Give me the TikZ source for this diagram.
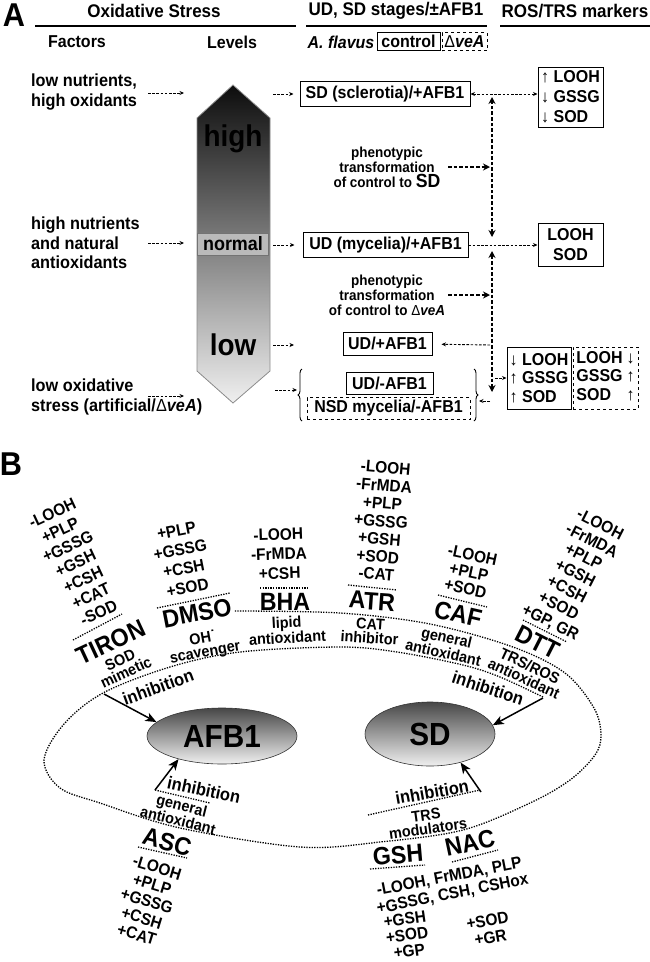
\documentclass[tikz,border=0pt]{standalone}
\usepackage{fontspec}
\setmainfont{Liberation Sans}[FakeStretch=0.93]
\usetikzlibrary{arrows.meta,shapes.geometric,decorations.pathreplacing,calc}
\newcommand{\fs}[2]{\fontsize{#1}{#2}\selectfont}
\newcommand{\dve}{{\mdseries Δ}\textit{veA}}
\begin{document}
\begin{tikzpicture}[x=1pt,y=-1pt,
  every node/.style={inner sep=0pt},
  hdr/.style={font=\bfseries\fs{18.3}{20}},
  sub/.style={font=\bfseries\fs{17.2}{20}},
  fac/.style={font=\bfseries\fs{17.5}{19.5}, align=left, anchor=west},
  bx/.style={draw, line width=1pt, font=\bfseries\fs{17.2}{20}},
  mk/.style={draw, line width=1pt, font=\bfseries\fs{17.2}{20}, align=left},
  big/.style={font=\bfseries\fs{30}{30}},
  ptx/.style={font=\bfseries\fs{14.5}{15}, align=center},
  da/.style={line width=0.9pt, dash pattern=on 2.6pt off 1.6pt, -{Stealth[length=4.5pt,width=4pt]}},
  dda/.style={da, {Stealth[length=4.5pt,width=4pt]}-{Stealth[length=4.5pt,width=4pt]}},
  tda/.style={line width=2.4pt, dash pattern=on 3.6pt off 2pt, -{Stealth[length=7pt,width=7pt]}},
  tdda/.style={tda, {Stealth[length=7pt,width=7pt]}-{Stealth[length=7pt,width=7pt]}},
  lst/.style={font=\bfseries\fs{16.6}{18.3}, align=center},
  drug/.style={font=\bfseries\fs{25}{25}},
  dsc/.style={font=\bfseries\fs{15.5}{14}, align=center},
  inh/.style={font=\bfseries\fs{17.7}{18}},
  sep/.style={line width=1.3pt, dash pattern=on 1.3pt off 1.3pt},
  inharr/.style={line width=1.5pt, -{Stealth[length=11pt,width=9pt,inset=3pt]}},
  oval/.style={ellipse, top color=black!72, bottom color=black!6, draw=black!80, line width=0.6pt, font=\bfseries\fs{32}{32}},
  brc/.style={line width=0.9pt, decorate, decoration={brace, amplitude=4pt}},
]
\useasboundingbox (0,0) rectangle (650,962);

% ---------------- Panel A header
\node[font=\bfseries\fs{33}{33}] (labA) at (14,15) {A};
\node[hdr] (hOx) at (154,11) {Oxidative Stress};
\node[hdr] (hUD) at (396,11) {UD, SD stages/±AFB1};
\node[hdr] (hRT) at (575,11) {ROS/TRS markers};
\draw[line width=1.6pt] (35,26) -- (296,26) (306,26) -- (487,26) (500,26) -- (650,26);
\node[sub] (hFa) at (77,42) {Factors};
\node[sub] (hLe) at (232,42) {Levels};
\node[font=\bfseries\itshape\fs{17.2}{20}] (hAf) at (341,42) {A. flavus};
\node[bx, minimum width=63, minimum height=18] (hCt) at (408.5,41.5) {control};
\node[bx, dashed, line width=0.8pt, minimum width=45, minimum height=18] (hDv) at (464.5,41.5) {\dve};

% ---------------- Factors
\node[fac] (f1) at (31,92) {low nutrients,\\high oxidants};
\node[fac] (f2) at (31,243) {high nutrients\\and natural\\antioxidants};
\node[fac] (f3) at (31,397) {low oxidative\\stress (artificial/\dve)};
\coordinate (f1a) at (148,93); \coordinate (f1b) at (184,93);
\coordinate (f2a) at (148,243); \coordinate (f2b) at (184,243);
\coordinate (f3a) at (148,396); \coordinate (f3b) at (184,396);
\draw[da] (f1a) -- (f1b);
\draw[da] (f2a) -- (f2b);
\draw[da] (f3a) -- (f3b);

% ---------------- Level arrow
\shade[top color=black!95, middle color=black!24, bottom color=black!6, draw=black!45, line width=0.8pt]
  (233,85) -- (270,118) -- (270,371) -- (233,403) -- (197,371) -- (197,118) -- cycle;
\node[big] (lvH) at (233,139) {high};
\node[draw=black!55, fill=black!27, line width=0.8pt, minimum width=71, minimum height=22, font=\bfseries\fs{19.3}{20}] (lvN) at (233,244) {normal};
\node[big] (lvL) at (233,345) {low};

% ---------------- Stage boxes
\node[bx, minimum width=170, minimum height=25] (sdb) at (385,94) {SD (sclerotia)/+AFB1};
\node[bx, minimum width=165, minimum height=25] (udb) at (385.5,245) {UD (mycelia)/+AFB1};
\node[bx, minimum width=89, minimum height=23] (udp) at (387.5,343.5) {UD/+AFB1};
\node[bx, minimum width=87, minimum height=22] (udm) at (389.5,383) {UD/-AFB1};
\node[bx, dashed, line width=0.8pt, minimum width=163, minimum height=22] (nsd) at (388.5,408.5) {NSD mycelia/-AFB1};
\draw[brc] (302,421) -- (302,369);
\draw[brc] (474,369) -- (474,421);

% ---------------- Markers
\node[mk, minimum width=65, minimum height=60] (m1) at (570.5,97) {↑ LOOH\\↓ GSSG\\↓ SOD};
\node[mk, align=center, minimum width=65, minimum height=43] (m2) at (570.5,244.5) {LOOH\\SOD};
\node[mk, font=\bfseries\fs{17.2}{18.5}, minimum width=64, minimum height=62] (m3) at (539,378) {↓ LOOH\\↑ GSSG\\↑ SOD};
\node[mk, dashed, line width=0.8pt, font=\bfseries\fs{17.2}{18.5}, minimum width=65, minimum height=62] (m4) at (605.5,378)
  {\begin{tabular}{@{}l@{\hspace{4pt}}r@{}}LOOH&↓\\GSSG&↑\\SOD&↑\end{tabular}};

% ---------------- Phenotypic transformation
\node[ptx] (pt1) at (387,167) {phenotypic\\transformation\\of control to {\fs{19}{15}SD}};
\node[ptx] (pt2) at (387,295) {phenotypic\\transformation\\of control to \dve};

% ---------------- Panel A connectors
\coordinate (l1) at (273,94);  \draw[da, shorten >=6pt] (l1) -- (sdb);
\coordinate (l2) at (273,245); \draw[da, shorten >=8pt] (l2) -- (udb);
\coordinate (l3) at (273,345); \coordinate (l3b) at (294,345); \draw[da] (l3) -- (l3b);
\coordinate (l4) at (275,390); \coordinate (l4b) at (297,390); \draw[da] (l4) -- (l4b);
\coordinate (vt) at (492,97); \coordinate (vm1) at (492,237);
\coordinate (vm2) at (492,251); \coordinate (vb) at (492,392);
\draw[tdda] (vm1) -- (vt);
\draw[tdda] (vm2) -- (vb);
\draw[dda] (sdb.east) -- (sdb.east -| m1.west);
\draw[da] (udb.east) -- (udb.east -| m2.west);
\coordinate (h3) at (490,345); \draw[da, shorten >=9pt] (h3) -- (udp);
\coordinate (h4) at (495,378); \draw[da] (h4) -- (h4 -| m3.west);
\coordinate (h5) at (490,401); \coordinate (h5b) at (479,401); \draw[da] (h5) -- (h5b);
\coordinate (p1a) at (448,167); \coordinate (p1b) at (490,167); \draw[tda] (p1a) -- (p1b);
\coordinate (p2a) at (448,295); \coordinate (p2b) at (490,295); \draw[tda] (p2a) -- (p2b);

% ================= Panel B
\node[font=\bfseries\fs{33}{33}] (labB) at (11,464) {B};

\draw[sep] plot[smooth, tension=0.55] coordinates {(543,697) (500,677) (463,665) (397,652) (340,647) (240,652) (170,667) (103,693) (64,724) (44,760) (60,788) (100,803) (180,828) (300,847) (380,842) (463,830) (530,803) (570,780) (595,755) (601,735) (594,708) (565,673) (513,647) (430,624) (340,613) (234,611)};

\node[oval, minimum width=150, minimum height=56] (afb) at (222,736) {AFB1};
\node[oval, minimum width=130, minimum height=64] (sdo) at (430,734) {SD};

\coordinate (ia1) at (104,694); \draw[inharr] (ia1) -- (afb.168);
\coordinate (ia2) at (543,698); \draw[inharr] (ia2) -- (sdo.8);
\coordinate (ia3) at (155,790); \draw[inharr] (ia3) -- (afb.208);
\coordinate (ia4) at (481,792); \draw[inharr] (ia4) -- (sdo.-43);

% TIRON
\node[lst, rotate=25] (tL) at (75.5,563) {-LOOH\\+PLP\\+GSSG\\+GSH\\+CSH\\+CAT\\-SOD};
\draw[sep] (73,640) -- (122,614);
\node[drug, rotate=25] (tN) at (111,642) {TIRON};
\node[dsc, rotate=25] (tD) at (123,666) {SOD\\mimetic};
\node[inh, rotate=20] (tI) at (158,687) {inhibition};
% DMSO
\node[lst, rotate=11, font=\bfseries\fs{16.6}{19.3}] (dL) at (182,559) {+PLP\\+GSSG\\+CSH\\+SOD};
\draw[sep] (157,608) -- (230,593);
\node[drug, rotate=11] (dN) at (197,613) {DMSO};
\node[dsc, rotate=10] (dD) at (204,646) {OH˙\\scavenger};
% BHA
\node[lst, rotate=2, font=\bfseries\fs{16.6}{19.5}] (bL) at (279,554) {-LOOH\\-FrMDA\\+CSH};
\draw[sep] (260,588) -- (308,588);
\node[drug] (bN) at (285,602) {BHA};
\node[dsc, rotate=3] (bD) at (287,630) {lipid\\antioxidant};
% ATR
\node[lst, rotate=-5, font=\bfseries\fs{16.6}{17.8}] (aL) at (381,521) {-LOOH\\-FrMDA\\+PLP\\+GSSG\\+GSH\\+SOD\\-CAT};
\draw[sep] (348,585) -- (397,590);
\node[drug, rotate=-4] (aN) at (372,601) {ATR};
\node[dsc, rotate=-4] (aD) at (370,631) {CAT\\inhibitor};
% CAF
\node[lst, rotate=-12, font=\bfseries\fs{16.6}{17}] (cL) at (469,572) {-LOOH\\+PLP\\+SOD};
\draw[sep] (438,595) -- (487,607);
\node[drug, rotate=-13] (cN) at (458,614) {CAF};
\node[dsc, rotate=-13] (cD) at (445,645) {general\\antioxidant};
% DTT
\node[lst, rotate=-27] (tL2) at (575,574) {-LOOH\\-FrMDA\\+PLP\\+GSH\\+CSH\\+SOD\\+GP, GR};
\draw[sep] (523,620) -- (567,642);
\node[drug, rotate=-27] (dtN) at (538,642) {DTT};
\node[dsc, rotate=-25] (dtD) at (527,672) {TRS/ROS\\antioxidant};
\node[inh, rotate=-18] (dtI) at (488,688) {inhibition};
% ASC
\node[inh, rotate=-12] (asI) at (204,790) {inhibition};
\draw[sep] (155,790) -- (210,803);
\node[dsc, rotate=-14] (asD) at (180,813) {general\\antioxidant};
\node[drug, rotate=-15] (asN) at (167,842) {ASC};
\draw[sep] (138,847) -- (187,858);
\node[lst, rotate=-17, font=\bfseries\fs{16.6}{17.5}] (asL) at (147,901) {-LOOH\\+PLP\\+GSSG\\+CSH\\+CAT};
% GSH / NAC
\node[inh, rotate=10] (gI) at (432,792) {inhibition};
\draw[sep] (368,815) -- (480,790);
\node[dsc, rotate=8] (gD) at (427,822) {TRS\\modulators};
\node[drug, rotate=5] (gN) at (398,855) {GSH};
\node[drug, rotate=12] (nN) at (470,843) {NAC};
\draw[sep] (370,869) -- (425,865);
\draw[sep] (452,862) -- (498,850);
\node[lst, rotate=11, font=\bfseries\fs{16.6}{17.5}] (gL1) at (451,886) {-LOOH, FrMDA, PLP\\+GSSG, CSH, CSHox};
\node[lst, rotate=8, font=\bfseries\fs{16.6}{16.3}] (gL2) at (407,935) {+GSH\\+SOD\\+GP};
\node[lst, rotate=10, font=\bfseries\fs{16.6}{17}] (nL) at (489,929) {+SOD\\+GR};
\end{tikzpicture}
\end{document}
